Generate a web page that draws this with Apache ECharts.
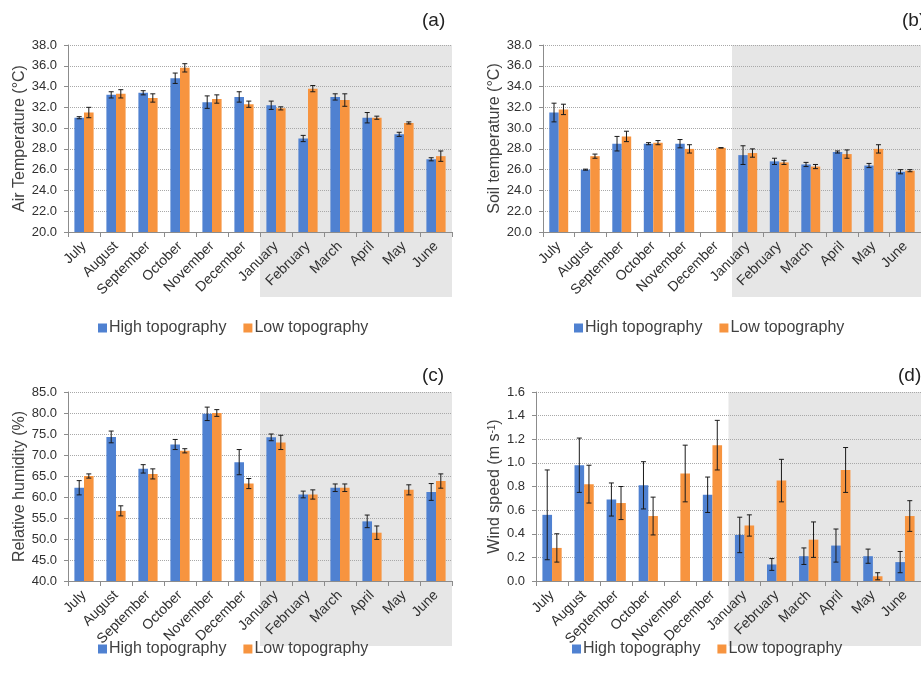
<!DOCTYPE html>
<html>
<head>
<meta charset="utf-8">
<script src="https://cdn.jsdelivr.net/npm/echarts@6/dist/echarts.min.js"></script>
<style>
  html, body { margin: 0; padding: 0; background: #fff; }
  #chart { width: 921px; height: 682px; }
</style>
</head>
<body>
<div id="chart"></div>
<script>
const months = ['July', 'August', 'September', 'October', 'November', 'December',
  'January', 'February', 'March', 'April', 'May', 'June'];

// (a) air temperature
const airHigh = [31.0, 33.2, 33.4, 34.8, 32.5, 33.0, 32.2, 29.0, 33.0, 31.0, 29.4, 27.0];
const airHighErr = [0.1, 0.3, 0.2, 0.5, 0.6, 0.5, 0.4, 0.3, 0.3, 0.5, 0.2, 0.15];
const airLow = [31.5, 33.3, 32.9, 35.8, 32.8, 32.3, 31.9, 33.8, 32.7, 31.0, 30.5, 27.3];
const airLowErr = [0.5, 0.4, 0.4, 0.4, 0.4, 0.3, 0.15, 0.3, 0.6, 0.15, 0.1, 0.5];

// (b) soil temperature
const soilHigh = [31.5, 26.0, 28.5, 28.5, 28.5, null, 27.4, 26.8, 26.5, 27.7, 26.4, 25.8];
const soilHighErr = [0.9, 0.05, 0.7, 0.1, 0.4, null, 0.9, 0.3, 0.2, 0.1, 0.2, 0.2];
const soilLow = [31.8, 27.3, 29.2, 28.6, 28.0, 28.1, 27.6, 26.7, 26.3, 27.5, 28.0, 25.9];
const soilLowErr = [0.5, 0.2, 0.5, 0.2, 0.4, 0.02, 0.4, 0.2, 0.2, 0.4, 0.4, 0.1];

// (c) relative humidity
const humHigh = [62.2, 74.3, 66.7, 72.5, 79.8, 68.3, 74.2, 60.6, 62.2, 54.2, null, 61.2];
const humHighErr = [1.7, 1.4, 1.0, 1.2, 1.6, 3.0, 0.8, 0.8, 0.9, 1.5, null, 2.0];
const humLow = [65.0, 56.7, 65.5, 71.0, 80.0, 63.2, 73.0, 60.6, 62.2, 51.5, 61.7, 63.8];
const humLowErr = [0.5, 1.2, 1.2, 0.5, 0.8, 1.2, 1.7, 1.1, 0.9, 1.6, 1.2, 1.7];

// (d) wind speed
const windHigh = [0.56, 0.98, 0.69, 0.81, null, 0.73, 0.39, 0.14, 0.21, 0.30, 0.21, 0.16];
const windHighErr = [0.38, 0.23, 0.14, 0.20, null, 0.15, 0.15, 0.05, 0.07, 0.14, 0.06, 0.09];
const windLow = [0.28, 0.82, 0.66, 0.55, 0.91, 1.15, 0.47, 0.85, 0.35, 0.94, 0.04, 0.55];
const windLowErr = [0.12, 0.16, 0.14, 0.16, 0.24, 0.21, 0.09, 0.18, 0.15, 0.19, 0.03, 0.13];

const FONT = "'Liberation Sans', Arial, sans-serif";
const BLUE = '#4f81d1';
const ORANGE = '#f7943f';

const panels = [
  { label: '(a)', name: 'Air Temperature (°C)', min: 20, max: 38, step: 2, gap: 36,
    high: airHigh, highErr: airHighErr, low: airLow, lowErr: airLowErr,
    grid: { left: 68, top: 45, width: 384, height: 187 }, legend: { left: 93, top: 315 }, title: { left: 417, top: 6 } },
  { label: '(b)', name: 'Soil temperature (°C)', min: 20, max: 38, step: 2, gap: 40,
    high: soilHigh, highErr: soilHighErr, low: soilLow, lowErr: soilLowErr,
    grid: { left: 543, top: 45, width: 387, height: 187 }, legend: { left: 569, top: 315 }, title: { left: 897, top: 6 } },
  { label: '(c)', name: 'Relative humidity (%)', min: 40, max: 85, step: 5, gap: 36,
    high: humHigh, highErr: humHighErr, low: humLow, lowErr: humLowErr,
    grid: { left: 68, top: 392, width: 384, height: 189 }, legend: { left: 93, top: 636 }, title: { left: 417, top: 361 } },
  { label: '(d)', name: 'Wind speed (m s{sup|-1})', min: 0, max: 1.6, step: 0.2, gap: 31,
    high: windHigh, highErr: windHighErr, low: windLow, lowErr: windLowErr,
    grid: { left: 536, top: 392, width: 392, height: 189 }, legend: { left: 567, top: 636 }, title: { left: 893, top: 361 } }
];

function errData(vals, errs) {
  const out = [];
  vals.forEach((v, i) => {
    if (v == null) return;
    out.push([i, v - errs[i], v + errs[i]]);
  });
  return out;
}

function errSeries(idx, data, shift) {
  return {
    type: 'custom',
    xAxisIndex: idx,
    yAxisIndex: idx,
    silent: true,
    z: 5,
    encode: { x: 0, y: [1, 2] },
    data: data,
    renderItem: (params, api) => {
      const band = api.size([1, 0])[0];
      const top = api.coord([api.value(0), api.value(2)]);
      const bot = api.coord([api.value(0), api.value(1)]);
      const x = top[0] + shift * band;
      const cap = 2.5;
      const style = { stroke: '#1a1a1a', lineWidth: 1 };
      return {
        type: 'group',
        children: [
          { type: 'line', shape: { x1: x, y1: top[1], x2: x, y2: bot[1] }, style },
          { type: 'line', shape: { x1: x - cap, y1: top[1], x2: x + cap, y2: top[1] }, style },
          { type: 'line', shape: { x1: x - cap, y1: bot[1], x2: x + cap, y2: bot[1] }, style }
        ]
      };
    }
  };
}

const option = {
  animation: false,
  textStyle: { fontFamily: FONT },
  title: panels.map(p => ({
    text: p.label, left: p.title.left, top: p.title.top,
    textStyle: { fontSize: 19, fontWeight: 'normal', color: '#222', fontFamily: FONT }
  })),
  legend: panels.map(p => ({
    left: p.legend.left, top: p.legend.top,
    data: ['High topography', 'Low topography'],
    icon: 'rect', itemWidth: 9, itemHeight: 9, itemGap: 17,
    textStyle: { fontSize: 16, color: '#404040', fontFamily: FONT, padding: [0, 0, 0, -3] }
  })),
  grid: panels.map(p => Object.assign({ containLabel: false }, p.grid)),
  xAxis: panels.map((p, i) => ({
    type: 'category', gridIndex: i, data: months,
    axisLine: { lineStyle: { color: '#8c8c8c' } },
    axisTick: { show: true, length: 5, lineStyle: { color: '#8c8c8c' } },
    axisLabel: { rotate: 45, fontSize: 14, color: '#303030', margin: 12, interval: 0 },
    splitLine: { show: false }
  })),
  yAxis: panels.map((p, i) => ({
    type: 'value', gridIndex: i, min: p.min, max: p.max, interval: p.step,
    name: p.name, nameLocation: 'middle', nameGap: p.gap,
    nameTextStyle: {
      fontSize: 16, color: '#404040', fontFamily: FONT,
      rich: { sup: { fontSize: 10, verticalAlign: 'top', color: '#404040', padding: [0, 0, 6, 0] } }
    },
    axisLine: { show: true, lineStyle: { color: '#8c8c8c' } },
    axisTick: { show: true, length: 4, lineStyle: { color: '#8c8c8c' } },
    axisLabel: { fontSize: 13, color: '#303030', margin: 11, formatter: v => v.toFixed(1) },
    splitLine: { lineStyle: { color: '#a8a8a8', type: [1, 1] } }
  })),
  series: []
};

panels.forEach((p, i) => {
  option.series.push({
    name: 'High topography', type: 'bar', xAxisIndex: i, yAxisIndex: i,
    data: p.high, itemStyle: { color: BLUE }, barGap: '0%', barCategoryGap: '40%'
  });
  option.series.push({
    name: 'Low topography', type: 'bar', xAxisIndex: i, yAxisIndex: i,
    data: p.low, itemStyle: { color: ORANGE }, barGap: '0%', barCategoryGap: '40%'
  });
  option.series.push(errSeries(i, errData(p.high, p.highErr), -0.15));
  option.series.push(errSeries(i, errData(p.low, p.lowErr), 0.15));
});

const chart = echarts.init(document.getElementById('chart'));
chart.setOption(option);

// grey shading for January..June, computed from the category axis
const shades = panels.map((p, i) => {
  const a = chart.convertToPixel({ xAxisIndex: i, yAxisIndex: i }, ['January', p.max]);
  const b = chart.convertToPixel({ xAxisIndex: i, yAxisIndex: i }, ['February', p.min]);
  const band = b[0] - a[0];
  const x0 = a[0] - band / 2;
  return {
    type: 'rect', z: -10, silent: true,
    shape: { x: x0, y: a[1], width: band * 6, height: (b[1] - a[1]) + 65 },
    style: { fill: '#e6e6e6' }
  };
});
chart.setOption({ graphic: { elements: shades } });
</script>
</body>
</html>
